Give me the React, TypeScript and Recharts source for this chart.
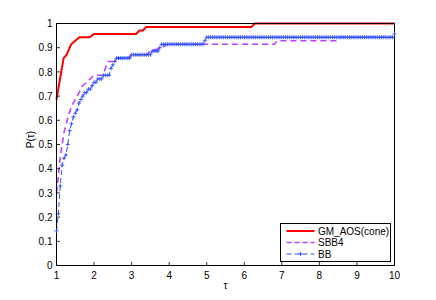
import React from 'react';
import { LineChart, Line, XAxis, YAxis, Label } from 'recharts';

// ---------- data ----------
const tauTicks = [1, 2, 3, 4, 5, 6, 7, 8, 9, 10];
const pTicks = [0, 0.1, 0.2, 0.3, 0.4, 0.5, 0.6, 0.7, 0.8, 0.9, 1];
const pTickLabels = ['0', '0.1', '0.2', '0.3', '0.4', '0.5', '0.6', '0.7', '0.8', '0.9', '1'];

const seriesNames = ['GM_AOS(cone)', 'SBB4', 'BB'];

// GM_AOS(cone): breakpoints of the profile
const gmTau = [1.0, 1.19, 1.27, 1.39, 1.5, 1.61, 1.88, 2.0, 3.12, 3.21, 3.3, 3.39, 6.19, 6.28, 10];
const gmP = [0.686, 0.857, 0.871, 0.914, 0.929, 0.943, 0.943, 0.957, 0.957, 0.971, 0.971, 0.986, 0.986, 1.0, 1.0];

// SBB4: breakpoints of the profile
const sbbTau = [1.0, 1.05, 1.1, 1.2, 1.3, 1.4, 1.5, 1.6, 1.7, 1.8, 1.9, 2.0, 2.23, 2.37, 2.5, 2.6, 2.9, 3.0, 3.4, 3.5, 3.8, 3.95, 6.8, 6.88, 8.45, 8.55, 10];
const sbbP = [0.3, 0.37, 0.45, 0.55, 0.61, 0.657, 0.686, 0.714, 0.743, 0.757, 0.771, 0.786, 0.786, 0.843, 0.843, 0.857, 0.857, 0.871, 0.871, 0.886, 0.9, 0.914, 0.914, 0.929, 0.929, 0.943, 0.943];

// BB: sampled on the tau grid (markers at every sample)
const bbTau = [
  1.0, 1.05, 1.1, 1.15, 1.2, 1.25, 1.3, 1.35, 1.4, 1.45, 1.5, 1.55, 1.6, 1.65, 1.7, 1.75, 1.8, 1.85, 1.9, 1.95,
  2.0, 2.05, 2.1, 2.15, 2.2, 2.25, 2.3, 2.35, 2.4, 2.45, 2.5, 2.55, 2.6, 2.65, 2.7, 2.75, 2.8, 2.85, 2.9, 2.95,
  3.0, 3.05, 3.1, 3.15, 3.2, 3.25, 3.3, 3.35, 3.4, 3.45, 3.5, 3.55, 3.6, 3.65, 3.7, 3.75, 3.8, 3.85, 3.9, 3.95,
  4.0, 4.05, 4.1, 4.15, 4.2, 4.25, 4.3, 4.35, 4.4, 4.45, 4.5, 4.55, 4.6, 4.65, 4.7, 4.75, 4.8, 4.85, 4.9, 4.95,
  5.0, 5.05, 5.1, 5.15, 5.2, 5.25, 5.3, 5.35, 5.4, 5.45, 5.5, 5.55, 5.6, 5.65, 5.7, 5.75, 5.8, 5.85, 5.9, 5.95,
  6.0, 6.05, 6.1, 6.15, 6.2, 6.25, 6.3, 6.35, 6.4, 6.45, 6.5, 6.55, 6.6, 6.65, 6.7, 6.75, 6.8, 6.85, 6.9, 6.95,
  7.0, 7.05, 7.1, 7.15, 7.2, 7.25, 7.3, 7.35, 7.4, 7.45, 7.5, 7.55, 7.6, 7.65, 7.7, 7.75, 7.8, 7.85, 7.9, 7.95,
  8.0, 8.05, 8.1, 8.15, 8.2, 8.25, 8.3, 8.35, 8.4, 8.45, 8.5, 8.55, 8.6, 8.65, 8.7, 8.75, 8.8, 8.85, 8.9, 8.95,
  9.0, 9.05, 9.1, 9.15, 9.2, 9.25, 9.3, 9.35, 9.4, 9.45, 9.5, 9.55, 9.6, 9.65, 9.7, 9.75, 9.8, 9.85, 9.9, 9.95,
  10.0,
];
const bbP = [
  0.143, 0.214, 0.329, 0.414, 0.443, 0.457, 0.5, 0.557, 0.586, 0.614, 0.629, 0.643, 0.671, 0.686, 0.7, 0.714, 0.714, 0.729, 0.729, 0.743,
  0.757, 0.757, 0.771, 0.771, 0.771, 0.786, 0.786, 0.786, 0.786, 0.814, 0.829, 0.843, 0.857, 0.857, 0.857, 0.857, 0.857, 0.857, 0.857, 0.857,
  0.871, 0.871, 0.871, 0.871, 0.871, 0.871, 0.871, 0.871, 0.871, 0.871, 0.871, 0.886, 0.886, 0.886, 0.886, 0.9, 0.914, 0.914, 0.914, 0.914,
  0.914, 0.914, 0.914, 0.914, 0.914, 0.914, 0.914, 0.914, 0.914, 0.914, 0.914, 0.914, 0.914, 0.914, 0.914, 0.914, 0.914, 0.914, 0.914, 0.929,
  0.943, 0.943, 0.943, 0.943, 0.943, 0.943, 0.943, 0.943, 0.943, 0.943, 0.943, 0.943, 0.943, 0.943, 0.943, 0.943, 0.943, 0.943, 0.943, 0.943,
  0.943, 0.943, 0.943, 0.943, 0.943, 0.943, 0.943, 0.943, 0.943, 0.943, 0.943, 0.943, 0.943, 0.943, 0.943, 0.943, 0.943, 0.943, 0.943, 0.943,
  0.943, 0.943, 0.943, 0.943, 0.943, 0.943, 0.943, 0.943, 0.943, 0.943, 0.943, 0.943, 0.943, 0.943, 0.943, 0.943, 0.943, 0.943, 0.943, 0.943,
  0.943, 0.943, 0.943, 0.943, 0.943, 0.943, 0.943, 0.943, 0.943, 0.943, 0.943, 0.943, 0.943, 0.943, 0.943, 0.943, 0.943, 0.943, 0.943, 0.943,
  0.943, 0.943, 0.943, 0.943, 0.943, 0.943, 0.943, 0.943, 0.943, 0.943, 0.943, 0.943, 0.943, 0.943, 0.943, 0.943, 0.943, 0.943, 0.943, 0.943,
  0.957,
];

// ---------- styles ----------
const FONT = "'Liberation Sans', Arial, Helvetica, sans-serif";
const TICK = 3.5;
const AXIS = '#000';
const RED = '#FF0000';
const MAG = '#BF40FF';
const BLUE = '#3050FF';

const toPoints = (ts: number[], ps: number[]) => ts.map((t, i) => ({ t, p: ps[i] }));
const gmData = toPoints(gmTau, gmP);
const sbbData = toPoints(sbbTau, sbbP);
const bbData = toPoints(bbTau, bbP);

const BottomTick = (props: any) => {
  const { x, y, payload } = props;
  return (
    <g>
      <line x1={x} y1={y} x2={x} y2={y - TICK} stroke={AXIS} strokeWidth={0.8} />
      <text x={x} y={y + 13} textAnchor="middle" fontSize={10} fontFamily={FONT} fill="#000">
        {payload.value}
      </text>
    </g>
  );
};
const TopTick = (props: any) => {
  const { x, y } = props;
  return <line x1={x} y1={y} x2={x} y2={y + TICK} stroke={AXIS} strokeWidth={0.8} />;
};
const LeftTick = (props: any) => {
  const { x, y, payload } = props;
  const idx = pTicks.findIndex((v) => Math.abs(v - payload.value) < 1e-9);
  return (
    <g>
      <line x1={x} y1={y} x2={x + TICK} y2={y} stroke={AXIS} strokeWidth={0.8} />
      <text x={x - 4} y={y + 3.6} textAnchor="end" fontSize={10} fontFamily={FONT} fill="#000">
        {idx >= 0 ? pTickLabels[idx] : String(payload.value)}
      </text>
    </g>
  );
};
const RightTick = (props: any) => {
  const { x, y } = props;
  return <line x1={x} y1={y} x2={x - TICK} y2={y} stroke={AXIS} strokeWidth={0.8} />;
};

const PlusDot = (props: any) => {
  const { cx, cy, index } = props;
  if (cx == null || cy == null) return <g key={`pd-${index}`} />;
  return (
    <path
      key={`pd-${index}`}
      d={`M${cx - 2},${cy}H${cx + 2}M${cx},${cy - 2}V${cy + 2}`}
      stroke={BLUE}
      strokeWidth={0.9}
      fill="none"
    />
  );
};

const XLabel = (props: any) => {
  const vb = props.viewBox || {};
  const cx = vb.x + vb.width / 2;
  return (
    <text x={cx} y={vb.y + 23} textAnchor="middle" fontSize={10} fontFamily={FONT} fill="#000">
      τ
    </text>
  );
};
const YLabel = (props: any) => {
  const vb = props.viewBox || {};
  const cx = vb.x - 22;
  const cy = vb.y + vb.height / 2 - 5;
  return (
    <text
      x={cx}
      y={cy}
      transform={`rotate(-90 ${cx} ${cy})`}
      textAnchor="middle"
      fontSize={10}
      fontFamily={FONT}
      fill="#000"
    >
      P(τ)
    </text>
  );
};

const legendItems = [
  { name: seriesNames[0], color: RED, dash: undefined as string | undefined, marker: false, width: 2 },
  { name: seriesNames[1], color: MAG, dash: '5 3', marker: false, width: 1.6 },
  { name: seriesNames[2], color: BLUE, dash: '5 3', marker: true, width: 1 },
];

const LegendBox = () => (
  <svg
    width={112}
    height={40}
    style={{ position: 'absolute', left: 280, top: 223 }}
  >
    <rect x={0.5} y={0.5} width={110} height={38} fill="#fff" stroke="#000" strokeWidth={1} />
    {legendItems.map((it, i) => {
      const cy = 8 + i * 11.5;
      return (
        <g key={it.name}>
          <line x1={6.5} y1={cy} x2={34.5} y2={cy} stroke={it.color} strokeWidth={it.width} strokeDasharray={it.dash} />
          {it.marker && (
            <path d={`M${20.5 - 2},${cy}H${20.5 + 2}M${20.5},${cy - 2}V${cy + 2}`} stroke={it.color} strokeWidth={1} />
          )}
          <text x={38} y={cy + 3.6} fontSize={10} fontFamily={FONT} fill="#000">
            {it.name}
          </text>
        </g>
      );
    })}
  </svg>
);

const axisCommon = {
  tickSize: 0,
  tickMargin: 0,
  tickLine: false,
  interval: 0 as const,
  axisLine: { stroke: AXIS, strokeWidth: 1 },
};

export default function App() {
  return (
    <div style={{ position: 'absolute', left: 0, top: 0, width: 436, height: 300, background: '#fff' }}>
      <LineChart
        width={436}
        height={300}
        margin={{ top: 22.5, right: 40.5, bottom: 33.5, left: 55.5 }}
      >
        <XAxis
          xAxisId="b"
          dataKey="t"
          type="number"
          domain={[1, 10]}
          ticks={tauTicks}
          orientation="bottom"
          height={1}
          {...axisCommon}
          tick={<BottomTick />}
        >
          <Label content={<XLabel />} />
        </XAxis>
        <XAxis
          xAxisId="t"
          dataKey="t"
          type="number"
          domain={[1, 10]}
          ticks={tauTicks}
          orientation="top"
          height={1}
          {...axisCommon}
          tick={<TopTick />}
        />
        <YAxis
          yAxisId="l"
          type="number"
          domain={[0, 1]}
          ticks={pTicks}
          orientation="left"
          width={1}
          {...axisCommon}
          tick={<LeftTick />}
        >
          <Label content={<YLabel />} />
        </YAxis>
        <YAxis
          yAxisId="r"
          type="number"
          domain={[0, 1]}
          ticks={pTicks}
          orientation="right"
          width={1}
          {...axisCommon}
          tick={<RightTick />}
        />
        <Line
          xAxisId="b"
          yAxisId="l"
          data={gmData}
          dataKey="p"
          type="linear"
          stroke={RED}
          strokeWidth={2}
          dot={false}
          activeDot={false}
          isAnimationActive={false}
        />
        <Line
          xAxisId="b"
          yAxisId="l"
          data={sbbData}
          dataKey="p"
          type="linear"
          stroke={MAG}
          strokeWidth={1.6}
          strokeDasharray="6 4"
          dot={false}
          activeDot={false}
          isAnimationActive={false}
        />
        <Line
          xAxisId="b"
          yAxisId="l"
          data={bbData}
          dataKey="p"
          type="linear"
          stroke={BLUE}
          strokeWidth={1}
          strokeDasharray="5 3"
          dot={<PlusDot />}
          activeDot={false}
          isAnimationActive={false}
        />
      </LineChart>
      <LegendBox />
    </div>
  );
}
